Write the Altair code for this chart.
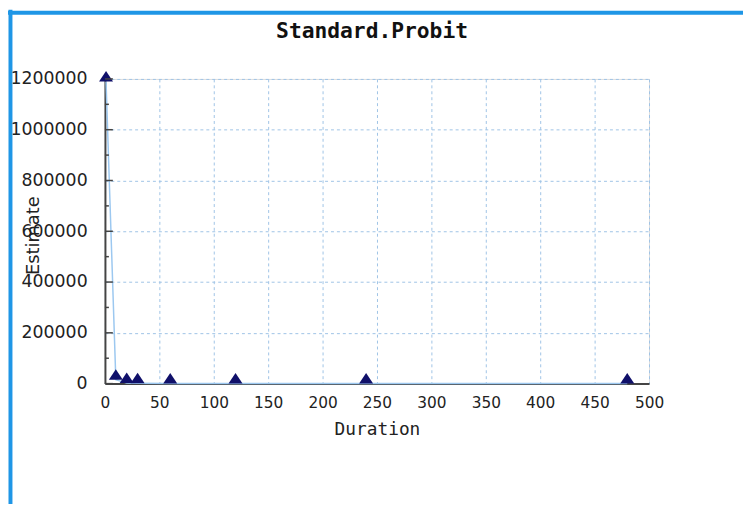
import altair as alt
import pandas as pd

# Data
duration = [1, 10, 20, 30, 60, 120, 240, 480]
estimate = [1190000, 15000, 2000, 1000, 500, 200, 100, 50]

y_major = [0, 200000, 400000, 600000, 800000, 1000000, 1200000]
y_minor = [100000, 300000, 500000, 700000, 900000, 1100000]
x_ticks = [0, 50, 100, 150, 200, 250, 300, 350, 400, 450, 500]
chart_title = "Standard.Probit"

df = pd.DataFrame({"Duration": duration, "Estimate": estimate})

W, H = 550, 308
PAD = {"left": 98, "top": 69, "right": 95, "bottom": 119}

x_scale = alt.Scale(domain=[0, 500], nice=False, zero=True)
y_scale = alt.Scale(domain=[0, 1200000], nice=False)

x_axis = alt.Axis(
    values=x_ticks, ticks=False, grid=True, gridColor="#9fc3e6", gridDash=[3, 3],
    gridWidth=1, domainColor="#444444", domainWidth=2, labelFont="DejaVu Sans",
    labelFontSize=15.5, labelColor="#222222", labelPadding=12, labelFlush=False,
    title="Duration", titleFont="DejaVu Sans Mono", titleFontSize=18,
    titleFontWeight="normal", titleColor="#222222", titlePadding=10,
)
y_axis = alt.Axis(
    values=y_major, ticks=False, grid=True, gridColor="#9fc3e6", gridDash=[3, 3],
    gridWidth=1, domainColor="#444444", domainWidth=2, labelFont="DejaVu Sans",
    labelFontSize=17.5, labelColor="#222222", labelPadding=18, labelFlush=False,
    format="d", title="Estimate", titleFont="DejaVu Sans", titleFontSize=18,
    titleFontWeight="normal", titleColor="#222222", titleX=-72, titleY=158,
    titleBaseline="middle", titleAngle=270,
)

base = alt.Chart(df)

line = base.mark_line(color="#9cc8f0", strokeWidth=1.5).encode(
    x=alt.X("Duration:Q", scale=x_scale, axis=x_axis),
    y=alt.Y("Estimate:Q", scale=y_scale, axis=y_axis),
)

points = base.mark_point(
    shape="M-1,0L1,0L0,-1.5Z", filled=True, color="#10106a", opacity=1, size=200
).encode(
    x=alt.X("Duration:Q", scale=x_scale),
    y=alt.Y("Estimate:Q", scale=y_scale),
)

major_ticks = alt.Chart(pd.DataFrame({"v": y_major})).mark_rule(
    color="#444444", strokeWidth=1.5
).encode(y=alt.Y("v:Q", scale=y_scale), x=alt.value(0), x2=alt.value(8))

minor_ticks = alt.Chart(pd.DataFrame({"v": y_minor})).mark_rule(
    color="#444444", strokeWidth=1.5
).encode(y=alt.Y("v:Q", scale=y_scale), x=alt.value(0), x2=alt.value(4))

frame = alt.Data(values=[{}])
border_left = alt.Chart(frame).mark_rule(color="#1f96e6", strokeWidth=4).encode(
    x=alt.value(-95.5), y=alt.value(-70), y2=alt.value(440)
)
border_top = alt.Chart(frame).mark_rule(color="#1f96e6", strokeWidth=4).encode(
    y=alt.value(-67), x=alt.value(-98), x2=alt.value(660)
)
title_text = alt.Chart(frame).mark_text(
    text=chart_title, font="DejaVu Sans Mono", fontSize=21.5, fontWeight="bold",
    color="#111111", align="center", baseline="middle",
).encode(x=alt.value(270), y=alt.value(-47))

chart = alt.layer(
    line, points, major_ticks, minor_ticks, border_left, border_top, title_text
).properties(
    width=W, height=H,
    padding=PAD,
    autosize=alt.AutoSizeParams(type="none"),
).configure_view(
    stroke=None, fill="#ebf4fd"
).configure(background="white")

chart.save("out.html", embed_options={"renderer": "svg", "actions": False})
